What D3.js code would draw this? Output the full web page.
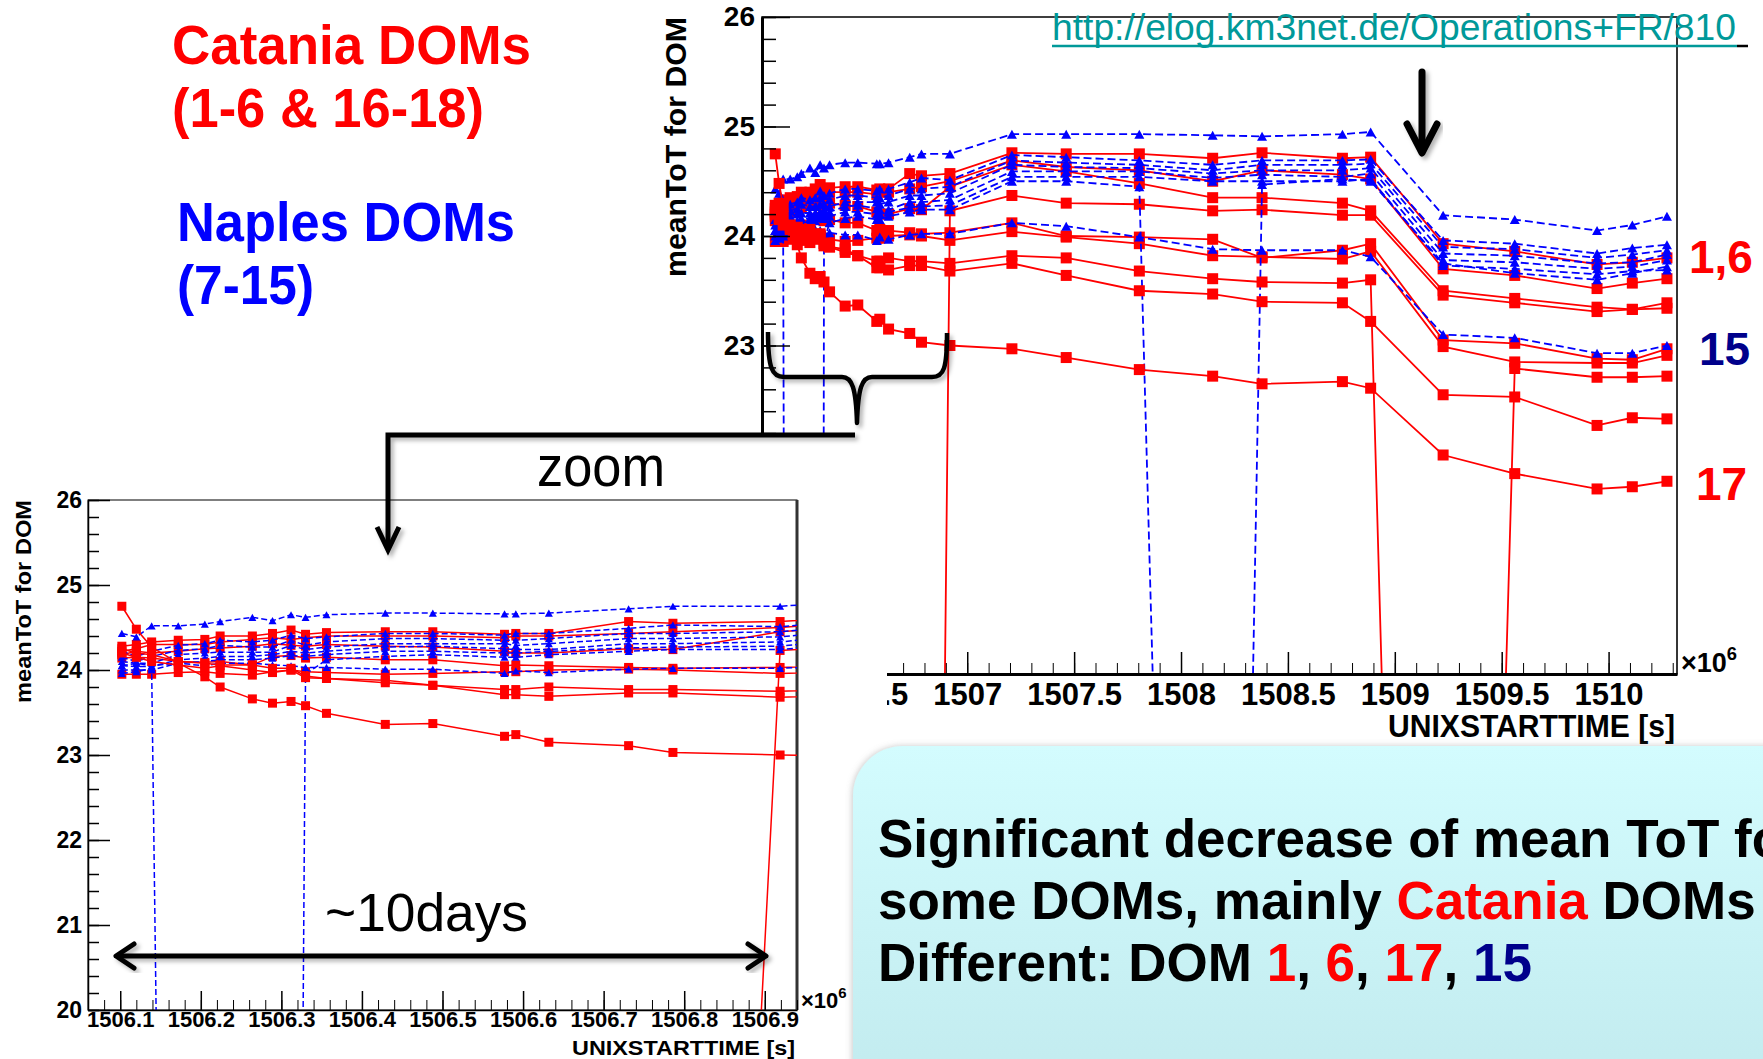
<!DOCTYPE html>
<html>
<head>
<meta charset="utf-8">
<script src="https://cdn.jsdelivr.net/npm/d3@7"></script>
<style>
  body { margin: 0; background: #fff; }
  svg { display: block; font-family: "Liberation Sans", Arial, Helvetica, sans-serif; }
</style>
</head>
<body>
<svg id="chart" width="1763" height="1059"></svg>
<script>
// run start times, units of 1e6 s
const times = [1506.102, 1506.120, 1506.139, 1506.172, 1506.205, 1506.224, 1506.264, 1506.289,
  1506.312, 1506.330, 1506.356, 1506.429, 1506.488, 1506.577, 1506.591, 1506.632, 1506.731,
  1506.786, 1506.919, 1507.209, 1507.463, 1507.805, 1508.148, 1508.379, 1508.755, 1508.887,
  1509.226, 1509.561, 1509.946, 1510.111, 1510.273];

// mean ToT per DOM (null = no run, 0 = dead run)
const dom01 = [24.28, 24.30, 24.33, 24.35, 24.36, 24.40, 24.40, 24.43, 24.47, 24.42, 24.44, 24.45, 24.45, 24.42, 24.43, 24.43, 24.57, 24.55, 24.57,
  24.76, 24.75, 24.75, 24.71, 24.76, 24.71, 24.72, 23.93, 23.86, 23.74, 23.76, 23.80];
const dom02 = [24.22, 24.25, 24.30, 24.30, 24.30, 24.33, 24.36, 24.38, 24.36, 24.38, 24.40, 24.40, 24.40, 24.38, 24.40, 24.40, 24.43, 24.45, 24.50,
  24.69, 24.63, 24.60, 24.50, 24.60, 24.56, 24.52, 23.70, 23.64, 23.52, 23.57, 23.61];
const dom03 = [24.18, 24.22, 24.20, 24.22, 24.25, 24.26, 24.28, 24.31, 24.29, 24.28, 24.30, 24.28, 24.27, 24.22, 24.20, 24.20, 24.25, 24.24, 24.45,
  24.65, 24.59, 24.48, 24.35, 24.35, 24.30, 24.23, 23.50, 23.43, 23.35, 23.33, 23.39];
const dom04 = [null, null, null, null, null, null, null, null, null, null, null, null, null, null, null, null, null, 0, 24.23,
  24.37, 24.30, 24.29, 24.23, 24.24, 24.19, 24.19, 23.46, 23.39, 23.31, 23.33, 23.34];
const dom05 = [24.14, 24.15, 24.14, 24.10, 24.09, 24.10, 24.06, 24.16, 24.17, 24.14, 24.15, 24.12, 24.12, 24.05, 24.06, 24.05, 24.03, 24.02, 24.03,
  24.12, 24.00, 23.99, 23.97, 23.80, 23.87, 23.93, 23.05, 23.02, 22.88, 22.87, 22.97];
const dom06 = [23.95, 23.95, 23.95, 23.97, 23.98, 23.96, 23.94, 23.98, 24.00, 23.98, 23.97, 23.95, 23.96, 23.98, 23.98, 24.00, 24.01, 24.00, 23.96,
  24.04, 23.99, 23.93, 23.82, 23.81, 23.79, 23.86, 22.99, 22.85, 22.84, 22.84, 22.91];
const dom07 = [24.43, 24.39, 24.52, 24.52, 24.54, 24.57, 24.62, 24.58, 24.65, 24.62, 24.65, 24.67, 24.67, 24.66, 24.66, 24.67, 24.72, 24.75, 24.75,
  24.93, 24.93, 24.93, 24.92, 24.91, 24.93, 24.95, 24.19, 24.15, 24.05, 24.10, 24.18];
const dom08 = [24.22, 24.16, 24.22, 24.29, 24.31, 24.35, 24.33, 24.35, 24.41, 24.37, 24.39, 24.43, 24.43, 24.41, 24.43, 24.43, 24.49, 24.53, 24.51,
  24.74, 24.72, 24.69, 24.65, 24.69, 24.69, 24.70, 23.96, 23.93, 23.84, 23.89, 23.92];
const dom09 = [24.15, 24.10, 24.16, 24.23, 24.25, 24.29, 24.27, 24.27, 24.35, 24.29, 24.33, 24.37, 24.37, 24.35, 24.35, 24.37, 24.43, 24.43, 24.45,
  24.69, 24.67, 24.65, 24.60, 24.65, 24.65, 24.66, 23.90, 23.88, 23.80, 23.83, 23.87];
const dom10 = [24.10, 24.08, 24.08, 24.18, 24.20, 24.21, 24.21, 24.21, 24.29, 24.24, 24.27, 24.31, 24.31, 24.31, 24.29, 24.31, 24.37, 24.37, 24.39,
  24.65, 24.63, 24.62, 24.57, 24.60, 24.60, 24.62, 23.84, 23.82, 23.75, 23.76, 23.83];
const dom11 = [24.05, 24.04, 24.04, 24.12, 24.14, 24.16, 24.16, 24.18, 24.22, 24.20, 24.22, 24.27, 24.28, 24.25, 24.24, 24.24, 24.31, 24.31, 24.33,
  24.59, 24.59, 24.59, 24.53, 24.56, 24.54, 24.57, 23.78, 23.76, 23.70, 23.72, 23.78];
const dom12 = [24.00, 24.00, 24.00, 24.08, 24.10, 24.12, 24.12, 24.14, 24.17, 24.16, 24.18, 24.22, 24.22, 24.20, 24.20, 24.22, 24.26, 24.27, 24.28,
  24.54, 24.54, 24.54, 24.50, 24.50, 24.50, 24.52, 23.73, 23.70, 23.65, 23.68, 23.69];
const dom13 = [23.96, 23.98, 24.02, 0, 0, 0, 0, 0, 0, 23.95, 24.12, 24.16, 24.18, 24.15, 24.15, 24.18, 24.22, 24.24, 24.24,
  24.50, 24.50, 24.45, 0, 24.47, 24.52, 24.50, 23.75, 23.66, 23.60, 23.66, 23.72];
const dom15 = [24.05, 24.08, 24.05, 24.08, 24.05, 24.08, 24.08, 24.06, 24.05, 24.03, 24.03, 24.01, 24.01, 23.96, 23.99, 23.97, 24.01, 24.02, 24.02,
  24.12, 24.09, 23.99, 23.88, 23.87, 23.87, 23.81, 23.10, 23.07, 22.93, 22.93, 23.00];
const dom16 = [24.20, 24.15, 24.10, 24.06, 24.02, 24.05, 24.00, 23.97, 24.00, 23.91, 23.90, 23.88, 23.82, 23.77, 23.77, 23.80, 23.77, 23.77, 23.75,
  23.82, 23.80, 23.68, 23.61, 23.58, 23.57, 23.60, 0, 22.79, 22.71, 22.71, 22.72];
const dom17 = [24.75, 24.48, 24.27, 24.08, 23.92, 23.80, 23.66, 23.61, 23.63, 23.58, 23.49, 23.36, 23.37, 23.22, 23.24, 23.15, 23.11, 23.03, 23.00,
  22.97, 22.89, 22.78, 22.72, 22.65, 22.67, 22.61, 22.00, 21.83, 21.69, 21.71, 21.76];
const dom18 = [24.25, 24.20, 24.18, 24.10, 24.08, 24.06, 24.06, 24.02, 24.02, 23.93, 23.90, 23.85, 23.82, 23.71, 23.71, 23.69, 23.73, 23.73, 23.68,
  23.75, 23.64, 23.50, 23.47, 23.40, 23.39, 23.22, 22.55, 22.53, 22.27, 22.34, 22.33];

// drawing order follows DOM number
const domNames = ["DOM1", "DOM2", "DOM3", "DOM4", "DOM5", "DOM6", "DOM7", "DOM8", "DOM9",
  "DOM10", "DOM11", "DOM12", "DOM13", "DOM15", "DOM16", "DOM17", "DOM18"];
const domValues = [dom01, dom02, dom03, dom04, dom05, dom06, dom07, dom08, dom09,
  dom10, dom11, dom12, dom13, dom15, dom16, dom17, dom18];
const domSite = ["Catania", "Catania", "Catania", "Catania", "Catania", "Catania", "Naples", "Naples", "Naples",
  "Naples", "Naples", "Naples", "Naples", "Naples", "Catania", "Catania", "Catania"];

// axis labels
const mainXTicks = [1506.5, 1507, 1507.5, 1508, 1508.5, 1509, 1509.5, 1510];
const insetXTicks = [1506.1, 1506.2, 1506.3, 1506.4, 1506.5, 1506.6, 1506.7, 1506.8, 1506.9];
const yTicks = [20, 21, 22, 23, 24, 25, 26];

const series = domNames.map((name, i) => ({ name, site: domSite[i], values: domValues[i] }));

const svg = d3.select("#chart");
const RED = "#ff0000", BLUE = "#0000ff", NAVY = "#00008b";

/**
 * defs: clips, shadow, box gradient
 */
const defs = svg.append("defs");
defs.append("clipPath").attr("id", "clipMain")
  .append("rect").attr("x", 762).attr("y", 17).attr("width", 915).attr("height", 657);
defs.append("clipPath").attr("id", "clipInset")
  .append("rect").attr("x", 88).attr("y", 500).attr("width", 709).attr("height", 510);
defs.append("filter").attr("id", "shadow")
  .attr("x", "-20%").attr("y", "-20%").attr("width", "140%").attr("height", "140%")
  .append("feDropShadow")
  .attr("dx", 3).attr("dy", 3).attr("stdDeviation", 2)
  .attr("flood-color", "#000").attr("flood-opacity", 0.3);
defs.append("filter").attr("id", "boxShadow")
  .attr("x", "-5%").attr("y", "-5%").attr("width", "110%").attr("height", "110%")
  .append("feDropShadow")
  .attr("dx", -1).attr("dy", 0).attr("stdDeviation", 3)
  .attr("flood-color", "#888").attr("flood-opacity", 0.45);
const grad = defs.append("linearGradient").attr("id", "boxGrad")
  .attr("x1", 0).attr("y1", 0).attr("x2", 0).attr("y2", 1);
grad.append("stop").attr("offset", "0%").attr("stop-color", "#d3fcfe");
grad.append("stop").attr("offset", "100%").attr("stop-color", "#bfe8ec");

svg.append("rect").attr("width", 1763).attr("height", 1059).attr("fill", "#fff");

function drawPanel(p) {
  const g = svg.append("g");
  const x = d3.scaleLinear().domain(p.xDomain).range(p.xRange);
  const y = d3.scaleLinear().domain([20, 26]).range(p.yRange);

  // frame
  g.append("rect")
    .attr("x", p.xRange[0]).attr("y", p.yRange[1])
    .attr("width", p.xRange[1] - p.xRange[0]).attr("height", p.yRange[0] - p.yRange[1])
    .attr("fill", "#fff").attr("stroke", "#000").attr("stroke-width", p.frameW);
  g.append("line")
    .attr("x1", p.xRange[1]).attr("x2", p.xRange[1])
    .attr("y1", p.yRange[1]).attr("y2", p.yRange[0])
    .attr("stroke", "#333").attr("stroke-width", p.rightW);

  // data
  const plot = g.append("g").attr("clip-path", `url(#${p.clip})`);
  const line = d3.line().x(d => x(d.t)).y(d => y(d.v));
  series.forEach(s => {
    const pts = times.map((t, i) => ({ t, v: s.values[i] })).filter(d => d.v !== null);
    const isRed = s.site === "Catania";
    const col = isRed ? RED : BLUE;
    plot.append("path")
      .attr("d", line(pts))
      .attr("fill", "none")
      .attr("stroke", col)
      .attr("stroke-width", p.lw)
      .attr("stroke-dasharray", isRed ? null : p.dash);
    if (isRed) {
      plot.selectAll(null).data(pts).enter().append("rect")
        .attr("x", d => x(d.t) - p.sq / 2)
        .attr("y", d => y(d.v) - p.sq / 2)
        .attr("width", p.sq).attr("height", p.sq)
        .attr("fill", col);
    } else {
      const w = p.tri, h = p.tri * 0.9;
      plot.selectAll(null).data(pts).enter().append("path")
        .attr("d", `M0,${-h / 2}L${w / 2},${h / 2}L${-w / 2},${h / 2}Z`)
        .attr("transform", d => `translate(${x(d.t)},${y(d.v)})`)
        .attr("fill", col);
    }
  });

  // axes, ticks inside like ROOT
  const xMinor = d3.range(Math.round(p.xDomain[0] / p.xMinorStep) + 1, Math.round(p.xDomain[1] / p.xMinorStep) + 1)
    .map(k => +(k * p.xMinorStep).toFixed(3))
    .filter(v => v >= p.xDomain[0] && v <= p.xDomain[1]);
  g.append("g").attr("transform", `translate(0,${p.yRange[0]})`)
    .call(d3.axisBottom(x).tickValues(xMinor).tickSize(-p.xMinorLen).tickSizeOuter(0).tickFormat(""))
    .call(a => a.select(".domain").remove());
  const gx = g.append("g").attr("transform", `translate(0,${p.yRange[0]})`)
    .call(d3.axisBottom(x).tickValues(p.xTicks).tickSize(-p.xMajorLen).tickSizeOuter(0)
      .tickPadding(p.xPad).tickFormat(d => String(+d.toFixed(1))));
  gx.select(".domain").attr("stroke-width", p.axisW);
  gx.selectAll(".tick line").attr("stroke-width", 1.5);
  gx.selectAll("text")
    .attr("font-family", "Liberation Sans, Arial, sans-serif")
    .attr("font-size", p.xFont).attr("font-weight", "bold").attr("fill", "#000");

  const yMinor = d3.range(100, 131).map(k => k / 5);
  g.append("g").attr("transform", `translate(${p.xRange[0]},0)`)
    .call(d3.axisLeft(y).tickValues(yMinor).tickSize(-p.yMinorLen).tickSizeOuter(0).tickFormat(""))
    .call(a => a.select(".domain").remove())
    .selectAll(".tick line").attr("stroke-width", 1.5);
  const gy = g.append("g").attr("transform", `translate(${p.xRange[0]},0)`)
    .call(d3.axisLeft(y).tickValues(yTicks).tickSize(-p.yMajorLen).tickSizeOuter(0)
      .tickPadding(p.yPad).tickFormat(d3.format("d")));
  gy.select(".domain").attr("stroke-width", p.axisW);
  gy.selectAll(".tick line").attr("stroke-width", 1.5);
  gy.selectAll("text")
    .attr("font-family", "Liberation Sans, Arial, sans-serif")
    .attr("font-size", p.yFont).attr("font-weight", "bold").attr("fill", "#000");

  // titles
  g.append("text")
    .attr("x", p.xRange[1] - 2).attr("y", p.xTitleY)
    .attr("text-anchor", "end").attr("font-weight", "bold").attr("font-size", p.xTitleFont)
    .attr("textLength", p.xTitleLen).attr("lengthAdjust", "spacingAndGlyphs")
    .text("UNIXSTARTTIME [s]");
  g.append("text")
    .attr("transform", `translate(${p.yTitleX},${p.yRange[1]}) rotate(-90)`)
    .attr("text-anchor", "end").attr("font-weight", "bold").attr("font-size", p.yTitleFont)
    .attr("textLength", p.yTitleLen).attr("lengthAdjust", "spacingAndGlyphs")
    .text("meanToT for DOM");
  const ex = g.append("text")
    .attr("x", p.xRange[1] + 4).attr("y", p.yRange[0] - 2)
    .attr("font-size", p.expFont).attr("font-weight", "bold");
  ex.append("tspan").text("\u00d710");
  ex.append("tspan").attr("dy", -p.expFont * 0.45).attr("font-size", p.expFont * 0.68).text("6");
  return g;
}

// main plot
drawPanel({
  xDomain: [1506.04, 1510.32], xRange: [762, 1677], yRange: [674, 17],
  clip: "clipMain", lw: 1.8, dash: "8,4", sq: 11, tri: 10,
  frameW: 1.5, rightW: 1.5, axisW: 3,
  xTicks: mainXTicks, xMinorStep: 0.1, xMajorLen: 22, xMinorLen: 11, xPad: 9, xFont: 31,
  yMajorLen: 28, yMinorLen: 14, yPad: 7, yFont: 28,
  xTitleY: 737, xTitleFont: 31, xTitleLen: 287,
  yTitleX: 686, yTitleFont: 29, yTitleLen: 260, expFont: 27
});

// the zoom inset covers the lower left of the main plot
svg.append("rect").attr("x", 0).attr("y", 433).attr("width", 887).attr("height", 626).attr("fill", "#fff");

drawPanel({
  xDomain: [1506.06, 1506.94], xRange: [88, 797], yRange: [1010, 500],
  clip: "clipInset", lw: 1.5, dash: "6,3", sq: 9, tri: 8,
  frameW: 1, rightW: 3, axisW: 1.5,
  xTicks: insetXTicks, xMinorStep: 0.02, xMajorLen: 19, xMinorLen: 10, xPad: 1, xFont: 22,
  yMajorLen: 22, yMinorLen: 11, yPad: 6, yFont: 23,
  xTitleY: 1055, xTitleFont: 21, xTitleLen: 223,
  yTitleX: 31, yTitleFont: 22, yTitleLen: 203, expFont: 22
});

/**
 * slide annotations
 */
const ann = svg.append("g");

function bigText(x, y, txt, col, len) {
  ann.append("text").attr("x", x).attr("y", y)
    .attr("font-size", 55).attr("font-weight", "bold").attr("fill", col)
    .attr("textLength", len).attr("lengthAdjust", "spacingAndGlyphs")
    .text(txt);
}
bigText(172, 64, "Catania DOMs", RED, 359);
bigText(172, 127, "(1-6 & 16-18)", RED, 312);
bigText(177, 241, "Naples DOMs", BLUE, 338);
bigText(177, 304, "(7-15)", BLUE, 137);

// link
ann.append("text").attr("x", 1052).attr("y", 40)
  .attr("font-size", 36).attr("fill", "#009999")
  .attr("textLength", 684).attr("lengthAdjust", "spacingAndGlyphs")
  .text("http://elog.km3net.de/Operations+FR/810");
ann.append("line").attr("x1", 1052).attr("x2", 1737).attr("y1", 46).attr("y2", 46)
  .attr("stroke", "#009999").attr("stroke-width", 2.5);
ann.append("line").attr("x1", 1737).attr("x2", 1748).attr("y1", 46).attr("y2", 46)
  .attr("stroke", "#000").attr("stroke-width", 2.5);

// down arrow on main plot
const arrow = ann.append("g").attr("filter", "url(#shadow)")
  .attr("fill", "none").attr("stroke", "#000").attr("stroke-width", 7)
  .attr("stroke-linecap", "round").attr("stroke-linejoin", "round");
arrow.append("path").attr("d", "M1422,72V150");
arrow.append("path").attr("d", "M1407,124L1422,153L1437,124");

// brace under the first days
ann.append("path").attr("filter", "url(#shadow)")
  .attr("d", "M768,332C768,368 772,377 784,377L842,377C852,377 856,388 857,423C858,388 862,377 872,377L932,377C944,377 947,368 947,333")
  .attr("fill", "none").attr("stroke", "#000").attr("stroke-width", 4.5)
  .attr("stroke-linejoin", "round");

// connector to the zoom
const conn = ann.append("g").attr("filter", "url(#shadow)")
  .attr("fill", "none").attr("stroke", "#000").attr("stroke-width", 5);
conn.append("path").attr("d", "M855,435H388V548");
conn.append("path").attr("d", "M377,527L388,550L399,527").attr("stroke-linejoin", "miter");
ann.append("text").attr("x", 537).attr("y", 486)
  .attr("font-size", 58).attr("textLength", 128).attr("lengthAdjust", "spacingAndGlyphs")
  .text("zoom");

// ~10days arrow in the inset
const days = ann.append("g").attr("filter", "url(#shadow)")
  .attr("fill", "none").attr("stroke", "#000").attr("stroke-width", 5)
  .attr("stroke-linecap", "round").attr("stroke-linejoin", "round");
days.append("path").attr("d", "M118,956H764");
days.append("path").attr("d", "M134,944L116,956L134,968");
days.append("path").attr("d", "M748,944L766,956L748,968");
ann.append("text").attr("x", 325).attr("y", 931)
  .attr("font-size", 54).attr("textLength", 203).attr("lengthAdjust", "spacingAndGlyphs")
  .text("~10days");

// DOM labels at the right edge
ann.append("text").attr("x", 1689).attr("y", 273).attr("font-size", 46).attr("font-weight", "bold")
  .attr("fill", RED).text("1,6");
ann.append("text").attr("x", 1699).attr("y", 365).attr("font-size", 46).attr("font-weight", "bold")
  .attr("fill", NAVY).text("15");
ann.append("text").attr("x", 1696).attr("y", 500).attr("font-size", 46).attr("font-weight", "bold")
  .attr("fill", RED).text("17");

// conclusion box (runs off the slide edge, as in the original)
ann.append("rect").attr("x", 853).attr("y", 746).attr("width", 1000).attr("height", 400)
  .attr("rx", 50).attr("fill", "url(#boxGrad)").attr("filter", "url(#boxShadow)");
const boxLines = [
  [["Significant decrease of mean ToT for", "#000"]],
  [["some DOMs, mainly ", "#000"], ["Catania", RED], [" DOMs", "#000"]],
  [["Different: DOM ", "#000"], ["1", RED], [", ", "#000"], ["6", RED], [", ", "#000"], ["17", RED], [", ", "#000"], ["15", NAVY]]
];
boxLines.forEach((parts, i) => {
  const t = ann.append("text").attr("x", 878).attr("y", 857 + i * 62)
    .attr("font-size", 53).attr("font-weight", "bold");
  parts.forEach(([s, c]) => t.append("tspan").attr("fill", c).text(s));
});
</script>
</body>
</html>
